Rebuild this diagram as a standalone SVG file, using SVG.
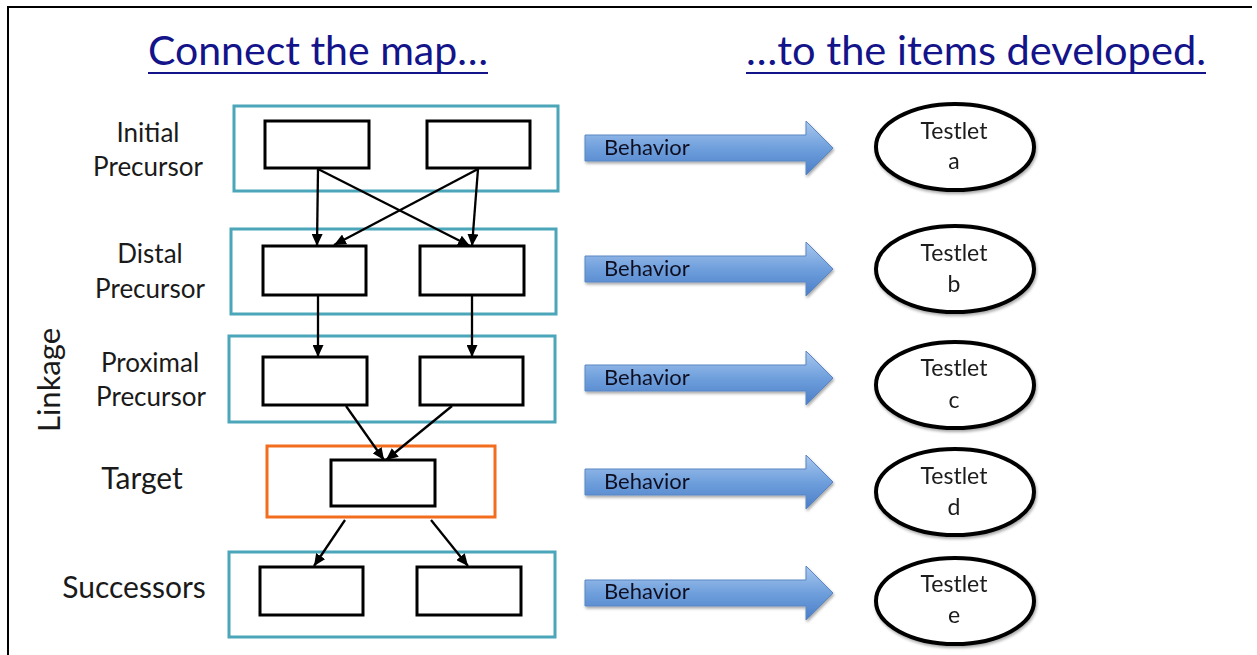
<svg xmlns="http://www.w3.org/2000/svg" width="1257" height="655" viewBox="0 0 1257 655">
<style>
.title{font-family:Lato,"Open Sans","Liberation Sans",sans-serif;font-size:40px;fill:#13138a}
.lbl{font-family:Lato,"Open Sans","Liberation Sans",sans-serif;font-size:26px;fill:#1a1a1a;text-anchor:middle}
.big{font-size:30px}
.side{font-size:31px}
.beh{font-family:Lato,"Open Sans","Liberation Sans",sans-serif;font-size:22px;fill:#111122}
.tl{font-family:Lato,"Open Sans","Liberation Sans",sans-serif;font-size:23px;fill:#1a1a1a;text-anchor:middle}
.grp{fill:none;stroke:#4ba6b9;stroke-width:3}
.tgt{fill:none;stroke:#f26d1e;stroke-width:3}
.box{fill:#fff;stroke:#000;stroke-width:3}
.ell{fill:#fff;stroke:#000;stroke-width:4}
.con{stroke:#000;stroke-width:2.3;fill:none;marker-end:url(#ah)}
.arr{fill:url(#bg);stroke:#5a87c4;stroke-width:1}
</style>
<defs>
<marker id="ah" markerUnits="userSpaceOnUse" markerWidth="12" markerHeight="11" refX="12" refY="5.5" orient="auto">
<path d="M0,0 L12,5.5 L0,11 z" fill="#000"/>
</marker>
<linearGradient id="bg" x1="0" y1="0" x2="0" y2="1">
<stop offset="0" stop-color="#a9c8ef"/>
<stop offset="0.5" stop-color="#6f9fdc"/>
<stop offset="1" stop-color="#4a7ec8"/>
</linearGradient>
<filter id="sh" x="-10%" y="-10%" width="130%" height="140%">
<feGaussianBlur in="SourceAlpha" stdDeviation="1.5"/>
<feOffset dx="1" dy="2" result="o"/>
<feComponentTransfer><feFuncA type="linear" slope="0.35"/></feComponentTransfer>
<feMerge><feMergeNode/><feMergeNode in="SourceGraphic"/></feMerge>
</filter>
</defs>
<rect width="1257" height="655" fill="#fff"/>
<path d="M8,655 L8,7 L1252,7" fill="none" stroke="#000" stroke-width="2"/>

<g id="titles">
<text class="title" x="148" y="65" textLength="340" lengthAdjust="spacingAndGlyphs">Connect the map…</text>
<rect x="148" y="72" width="340" height="2" fill="#13138a"/>
<text class="title" x="746" y="65" textLength="460" lengthAdjust="spacingAndGlyphs">…to the items developed.</text>
<rect x="746" y="72" width="460" height="2" fill="#13138a"/>
</g>

<g id="labels">
<text class="lbl" x="148" y="142">Initial</text>
<text class="lbl" x="148" y="176">Precursor</text>
<text class="lbl" x="150" y="263">Distal</text>
<text class="lbl" x="150" y="298">Precursor</text>
<text class="lbl" x="150" y="372">Proximal</text>
<text class="lbl" x="151" y="406">Precursor</text>
<text class="lbl big" x="142" y="489">Target</text>
<text class="lbl big" x="134" y="598">Successors</text>
<text class="lbl side" x="0" y="0" transform="translate(60,380) rotate(-90)">Linkage</text>
</g>

<g id="row-initial">
<rect class="grp" x="234" y="106" width="324" height="85"/>
<rect class="box" x="265" y="121" width="104" height="47"/>
<rect class="box" x="427" y="121" width="103" height="47"/>
</g>
<g id="row-distal">
<rect class="grp" x="231" y="229" width="325" height="85"/>
<rect class="box" x="263" y="246" width="103" height="49"/>
<rect class="box" x="420" y="246" width="104" height="49"/>
</g>
<g id="row-proximal">
<rect class="grp" x="229" y="336" width="326" height="86"/>
<rect class="box" x="263" y="357" width="104" height="48"/>
<rect class="box" x="420" y="357" width="103" height="48"/>
</g>
<g id="row-target">
<rect class="tgt" x="267" y="446" width="228" height="71"/>
<rect class="box" x="331" y="460" width="104" height="46"/>
</g>
<g id="row-successors">
<rect class="grp" x="229" y="552" width="326" height="85"/>
<rect class="box" x="260" y="567" width="103" height="48"/>
<rect class="box" x="417" y="567" width="104" height="48"/>
</g>

<g id="connectors">
<line class="con" x1="318" y1="169" x2="317" y2="246"/>
<line class="con" x1="318" y1="169" x2="470" y2="246"/>
<line class="con" x1="478" y1="169" x2="472" y2="246"/>
<line class="con" x1="478" y1="169" x2="334" y2="245"/>
<line class="con" x1="318" y1="296" x2="318" y2="357"/>
<line class="con" x1="472" y1="296" x2="472" y2="357"/>
<line class="con" x1="346" y1="406" x2="384" y2="460"/>
<line class="con" x1="452" y1="406" x2="386" y2="460"/>
<line class="con" x1="345" y1="520" x2="314" y2="566"/>
<line class="con" x1="431" y1="520" x2="468" y2="566"/>
</g>

<g id="behavior-a" filter="url(#sh)">
<path class="arr" d="M585,135 L806,135 L806,121 L833,148 L806,175 L806,161 L585,161 z"/>
<text class="beh" x="604" y="155">Behavior</text>
</g>
<g id="behavior-b" filter="url(#sh)">
<path class="arr" d="M585,256 L806,256 L806,242 L833,269 L806,296 L806,282 L585,282 z"/>
<text class="beh" x="604" y="276">Behavior</text>
</g>
<g id="behavior-c" filter="url(#sh)">
<path class="arr" d="M585,365 L806,365 L806,351 L833,378 L806,405 L806,391 L585,391 z"/>
<text class="beh" x="604" y="385">Behavior</text>
</g>
<g id="behavior-d" filter="url(#sh)">
<path class="arr" d="M585,469 L806,469 L806,455 L833,482 L806,509 L806,495 L585,495 z"/>
<text class="beh" x="604" y="489">Behavior</text>
</g>
<g id="behavior-e" filter="url(#sh)">
<path class="arr" d="M585,580 L806,580 L806,566 L833,593 L806,620 L806,606 L585,606 z"/>
<text class="beh" x="604" y="599">Behavior</text>
</g>

<g id="testlet-a" filter="url(#sh)">
<ellipse class="ell" cx="955" cy="147" rx="79" ry="43"/>
<text class="tl" x="954" y="139">Testlet</text>
<text class="tl" x="954" y="169">a</text>
</g>
<g id="testlet-b" filter="url(#sh)">
<ellipse class="ell" cx="955" cy="269" rx="79" ry="43"/>
<text class="tl" x="954" y="261">Testlet</text>
<text class="tl" x="954" y="292">b</text>
</g>
<g id="testlet-c" filter="url(#sh)">
<ellipse class="ell" cx="955" cy="385" rx="79" ry="43"/>
<text class="tl" x="954" y="376">Testlet</text>
<text class="tl" x="954" y="408">c</text>
</g>
<g id="testlet-d" filter="url(#sh)">
<ellipse class="ell" cx="955" cy="492" rx="79" ry="43"/>
<text class="tl" x="954" y="484">Testlet</text>
<text class="tl" x="954" y="515">d</text>
</g>
<g id="testlet-e" filter="url(#sh)">
<ellipse class="ell" cx="955" cy="601" rx="79" ry="43"/>
<text class="tl" x="954" y="592">Testlet</text>
<text class="tl" x="954" y="623">e</text>
</g>
</svg>
